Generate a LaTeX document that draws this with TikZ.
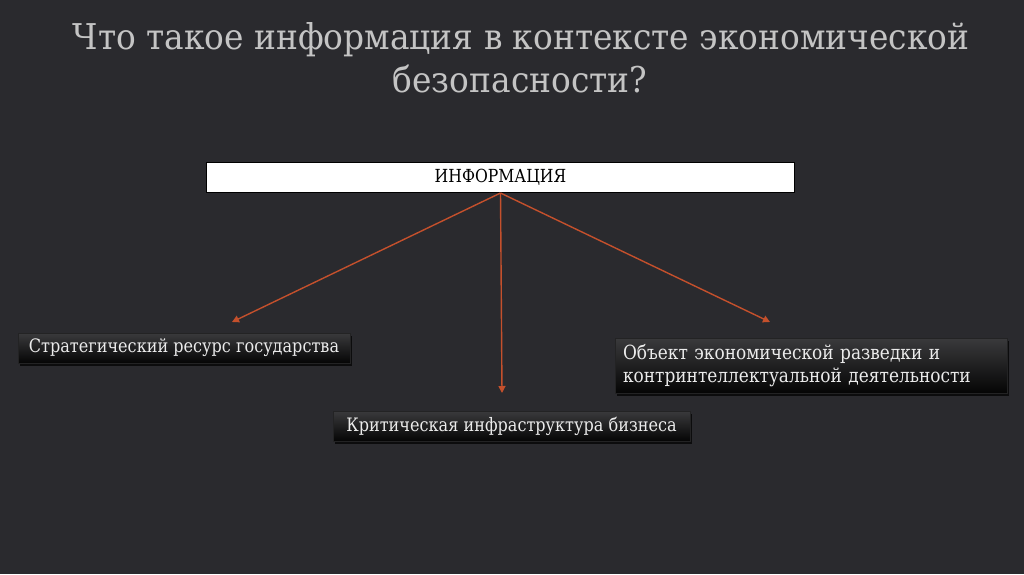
\documentclass[tikz,border=0pt]{standalone}
\usepackage{fontspec}
\setmainfont{DejaVu Serif}[FakeStretch=0.87]
\newfontfamily\ttlfont{DejaVu Serif}[FakeStretch=0.925]
\usetikzlibrary{arrows.meta,shadows}
\definecolor{bgc}{HTML}{2A2A2E}
\definecolor{titlec}{HTML}{C4C4C4}
\definecolor{arrc}{HTML}{C4502C}
\definecolor{boxtop}{HTML}{3A3A3C}
\definecolor{boxbot}{HTML}{050505}
\definecolor{boxtxt}{HTML}{EBEBEB}
\tikzset{
  titletext/.style={text=titlec, font=\ttlfont\fontsize{35.5}{40}\selectfont, anchor=base, inner sep=0pt},
  topbox/.style={draw=black, line width=1.5pt, fill=white, minimum width=588pt, minimum height=30pt, inner sep=0pt, font=\fontsize{18}{20}\selectfont},
  darkbox/.style={top color=boxtop, bottom color=boxbot, draw=boxtop!60!black, line width=0.5pt, text=boxtxt,
     font=\fontsize{18.5}{23}\selectfont, inner sep=0pt, drop shadow={shadow xshift=2pt, shadow yshift=-3pt, opacity=0.7, fill=black}},
  conn/.style={draw=arrc, line width=1.4pt, -{Triangle[length=7pt,width=7pt]}}
}
\begin{document}
\begin{tikzpicture}[x=1pt,y=-1pt]
\fill[bgc] (0,0) rectangle (1024,574);
\useasboundingbox (0,0) rectangle (1024,574);
\node[titletext] (t1) at (521,49) {Что такое информация в контексте экономической};
\node[titletext] (t2) at (520,92) {безопасности?};
\node[topbox] (info) at (500.5,177.5) {ИНФОРМАЦИЯ};
\node[darkbox, minimum width=332pt, minimum height=30pt] (left) at (184,348) {Стратегический ресурс государства};
\node[darkbox, minimum width=357pt, minimum height=30pt] (mid) at (511.5,426) {Критическая инфраструктура бизнеса};
\node[darkbox, font=\fontsize{19.5}{23}\selectfont, minimum width=392pt, minimum height=55pt, text width=376pt, align=left] (right) at (811,365.5) {Объект экономической разведки и\\контринтеллектуальной деятельности};
\coordinate (o) at (500.5,193);
\coordinate (eL) at (232,322);
\coordinate (eM) at (502,393);
\coordinate (eR) at (770,322);
\draw[conn] (o) -- (eL);
\draw[conn] (o) -- (eM);
\draw[conn] (o) -- (eR);
\end{tikzpicture}
\end{document}
